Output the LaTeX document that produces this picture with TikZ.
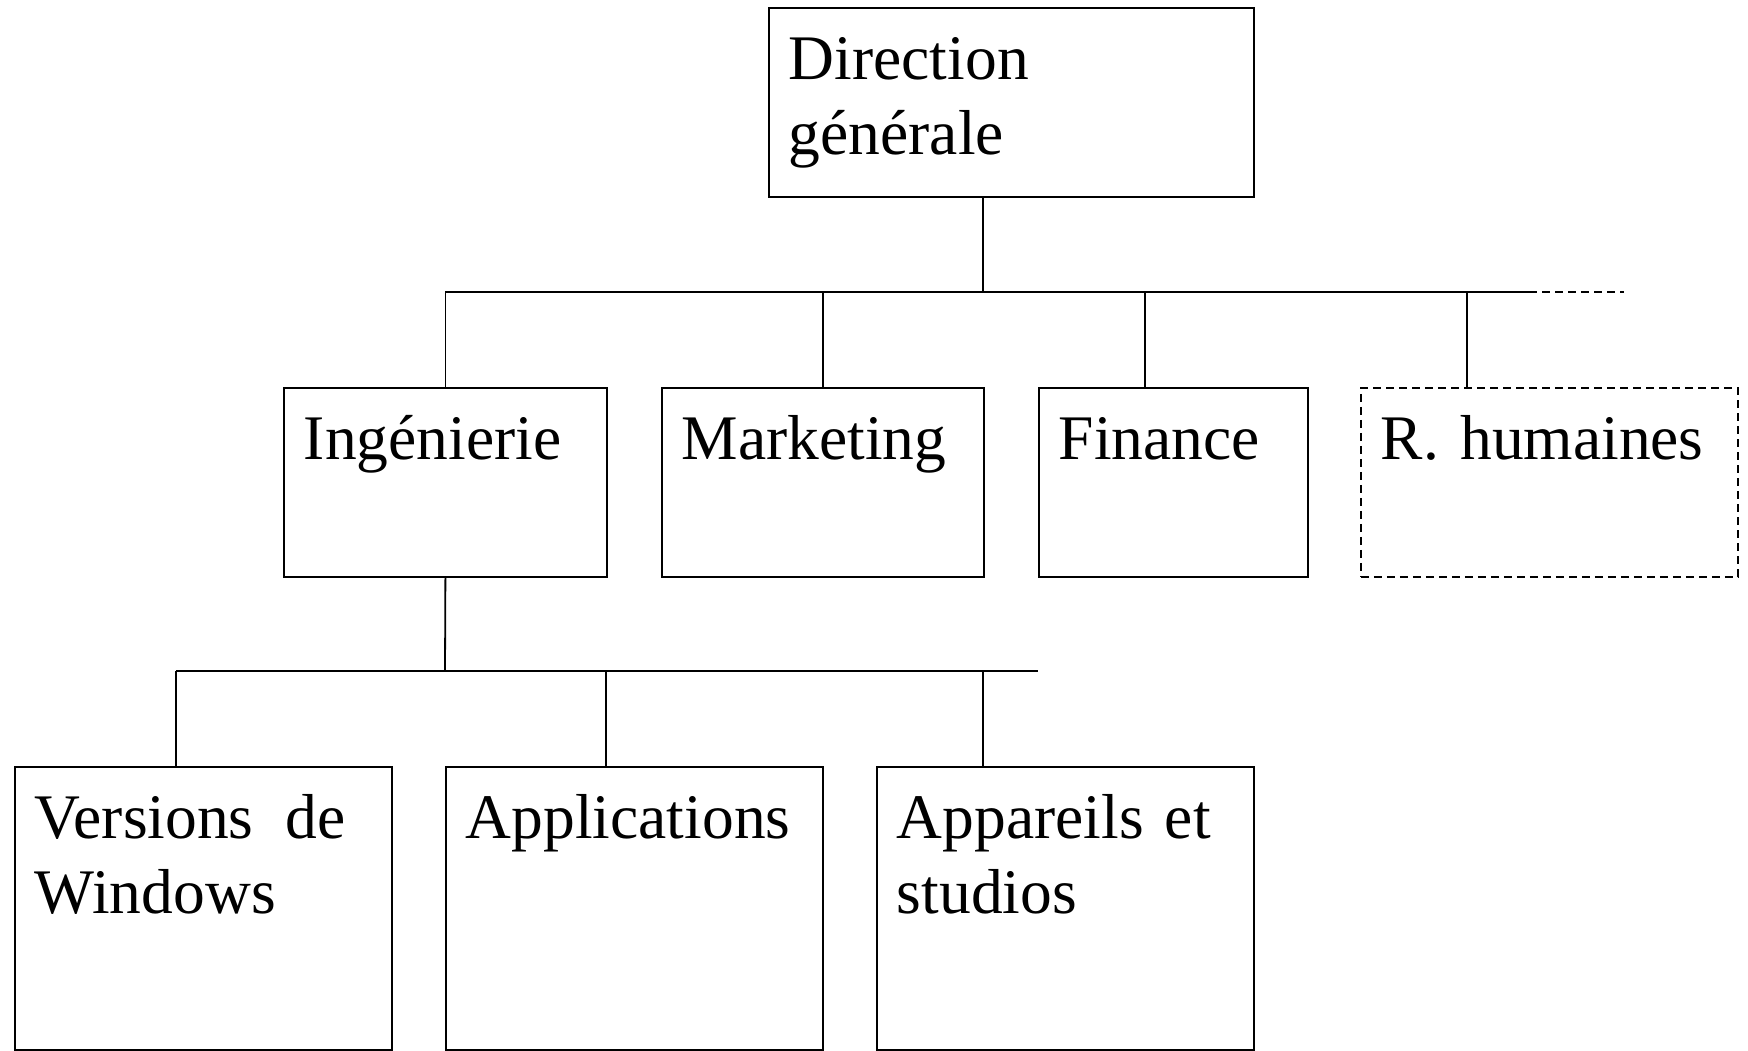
\documentclass[tikz,border=0pt]{standalone}
\usepackage{fontspec}
\setmainfont{Liberation Serif}
\usetikzlibrary{positioning}
\newcommand{\unitfont}{\fontsize{31.75pt}{37.5pt}\selectfont}
\tikzset{
  unit/.style={draw, line width=0.9pt, anchor=north west, align=left,
    inner xsep=10pt, inner ysep=14pt, text height=22pt, font=\unitfont},
  short/.style={unit, text depth=44.5pt},
  tall/.style={unit, text depth=91.5pt},
  vacant/.style={dash pattern=on 4pt off 2.5pt},
  link/.style={line width=0.9pt}
}

\begin{document}
\begin{tikzpicture}[x=0.5pt, y=-0.5pt]
        \useasboundingbox (0,0) rectangle (1748,1050);

        \node[short, text width=222.5pt] (dg) at (768,7) {Direction\\générale};

        \node[short, text width=141.5pt] (ing) at (283,387) {Ingénierie};
        \node[short, text width=141pt] (mkt) at (661,387) {Marketing};
        \node[short, text width=114.5pt] (fin) at (1038,387) {Finance};
        \node[short, vacant, text width=168.5pt] (rh) at (1360,387) {R.\ humaines};

        \node[tall, text width=168.5pt] (win) at (14,766) {Versions\enspace de\\Windows};
        \node[tall, text width=168.5pt] (app) at (445,766) {Applications};
        \node[tall, text width=168.5pt] (dev) at (876,766) {Appareils et\\studios};

        % upper bus
        \coordinate (hub1) at (983,292);
        \coordinate (bus1 end) at (1529,292);
        \coordinate (bus1 open) at (1624,292);
        \coordinate (fin top) at ([xshift=53.5pt]fin.north west);
        \coordinate (rh top) at ([xshift=53.5pt]rh.north west);

        \draw[link] (dg.south -| hub1) -- (hub1);
        \draw[link] (ing.north |- hub1) -- (bus1 end);
        \draw[link, vacant] (bus1 end) -- (bus1 open);
        \draw[link] (ing.north) -- (ing.north |- hub1);
        \draw[link] (mkt.north) -- (mkt.north |- hub1);
        \draw[link] (fin top) -- (fin top |- hub1);
        \draw[link] (rh top) -- (rh top |- hub1);

        % lower bus
        \coordinate (hub2) at (445,671);
        \coordinate (bus2 end) at (1038,671);
        \coordinate (win top) at ([xshift=81pt]win.north west);
        \coordinate (app top) at ([xshift=80.5pt]app.north west);
        \coordinate (dev top) at ([xshift=53.5pt]dev.north west);

        \draw[link] (ing.south) -- (hub2);
        \draw[link] (win top |- hub2) -- (bus2 end);
        \draw[link] (win top) -- (win top |- hub2);
        \draw[link] (app top) -- (app top |- hub2);
        \draw[link] (dev top) -- (dev top |- hub2);
    \end{tikzpicture}
\end{document}
